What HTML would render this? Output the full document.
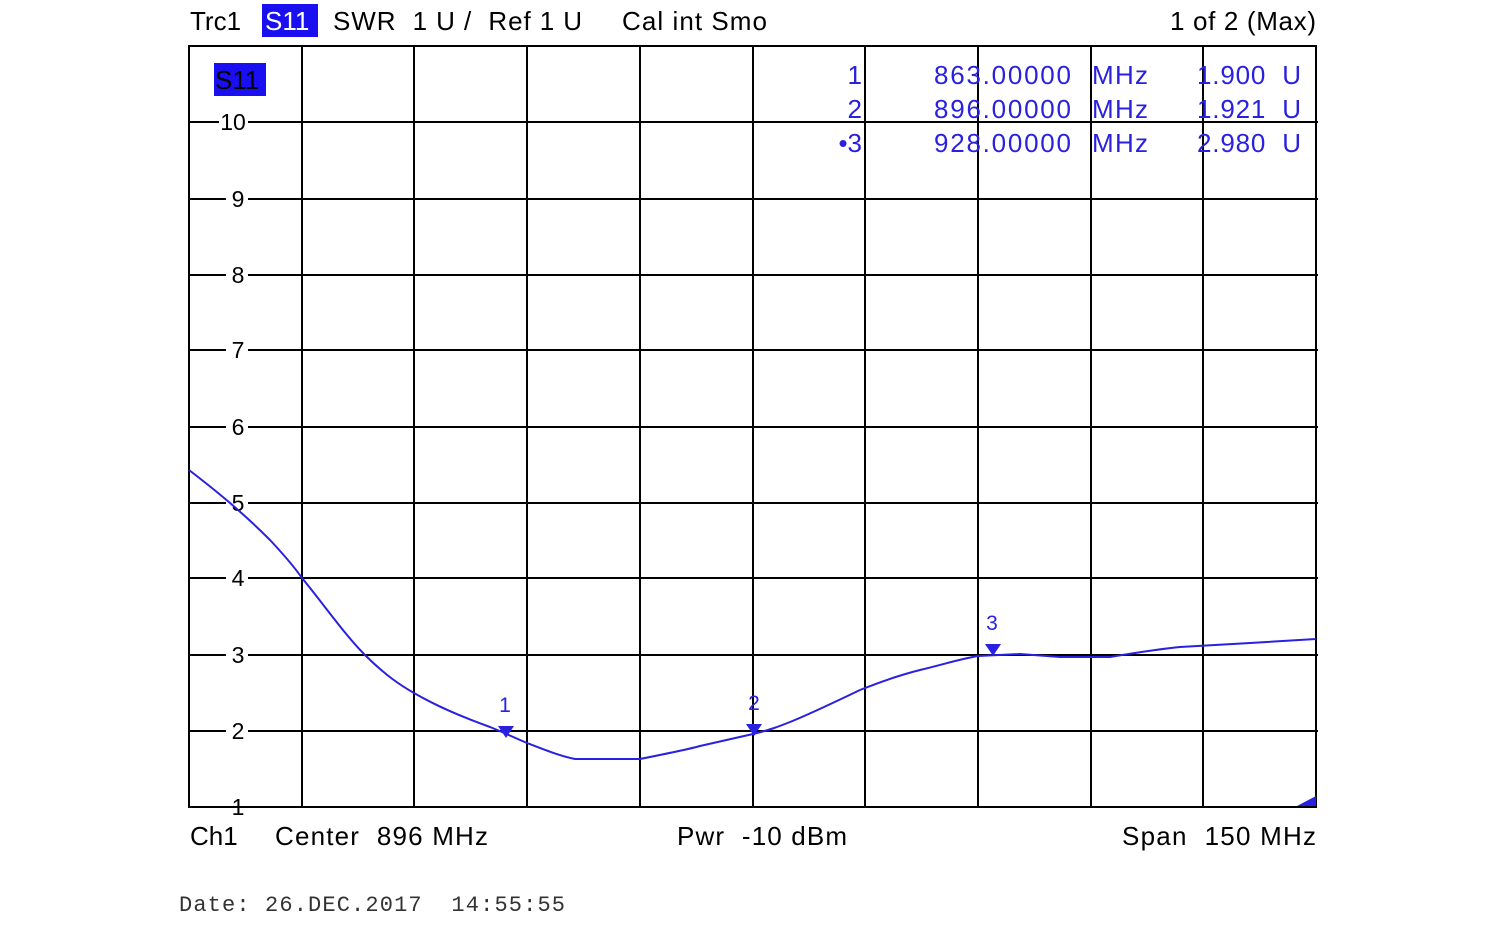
<!DOCTYPE html>
<html><head><style>
body{margin:0;background:#fff;width:1500px;height:944px;overflow:hidden}
svg text{white-space:pre}
.s{font-family:"Liberation Sans",sans-serif}
.m{font-family:"Liberation Mono",monospace}
</style></head><body>
<svg width="1500" height="944" xmlns="http://www.w3.org/2000/svg" xml:space="preserve">
<g stroke="#000" stroke-width="2" fill="none">
<rect x="189" y="46" width="1127" height="761"/>
<path d="M302 46V807M414 46V807M527 46V807M640 46V807M753 46V807M865 46V807M978 46V807M1091 46V807M1203 46V807"/>
<path d="M189 122H219M248 122H1318M189 199H226M248 199H1318M189 275H226M248 275H1318M189 350H226M248 350H1318M189 427H226M248 427H1318M189 503H226M248 503H1318M189 578H226M248 578H1318M189 655H226M248 655H1318M189 731H226M248 731H1318M189 807H226M248 807H1316"/>
</g>
<g class="s" font-size="23" fill="#000" text-anchor="middle">
<text x="233" y="130">10</text><text x="238" y="207">9</text><text x="238" y="283">8</text><text x="238" y="358">7</text><text x="238" y="435">6</text><text x="238" y="511">5</text><text x="238" y="586">4</text><text x="238" y="663">3</text><text x="238" y="739">2</text><text x="238" y="815">1</text>
</g>
<g class="s" font-size="26" fill="#000">
<text x="190" y="30">Trc1</text>
<rect x="262" y="4" width="56" height="33" fill="#1a0ff0"/>
<text x="265" y="30" fill="#fff">S11</text>
<text x="333" y="30" textLength="249">SWR  1 U /  Ref 1 U</text>
<text x="622" y="30" textLength="145">Cal int Smo</text>
<text x="1170" y="30" textLength="146">1 of 2 (Max)</text>
<text x="190" y="845">Ch1</text>
<text x="275" y="845" textLength="213">Center  896 MHz</text>
<text x="677" y="845" textLength="170">Pwr  -10 dBm</text>
<text x="1122" y="845" textLength="194">Span  150 MHz</text>
</g>
<rect x="214" y="63" width="52" height="33" fill="#1a0ff0"/>
<text class="s" x="215" y="89" font-size="26" fill="#000">S11</text>
<g class="s" font-size="26" fill="#2a20e0">
<text x="862" y="84" text-anchor="end">1</text><text x="934" y="84" textLength="137">863.00000</text><text x="1092" y="84" textLength="56">MHz</text><text x="1197" y="84" textLength="104">1.900  U</text>
<text x="862" y="118" text-anchor="end">2</text><text x="934" y="118" textLength="137">896.00000</text><text x="1092" y="118" textLength="56">MHz</text><text x="1197" y="118" textLength="104">1.921  U</text>
<text x="862" y="152" text-anchor="end">•3</text><text x="934" y="152" textLength="137">928.00000</text><text x="1092" y="152" textLength="56">MHz</text><text x="1197" y="152" textLength="104">2.980  U</text>
</g>
<path d="M189 470 C215 490 240 510 270 540 C285 556 295 568 302 578 C325 606 345 635 365 655 C385 675 400 685 414 693 C440 708 465 718 490 727 C505 733 515 738 527 743 C545 750 560 756 575 759 L640 759 C665 754 690 749 700 746 L753 734 C770 730 780 726 790 722 C810 714 835 702 860 690 C880 682 900 675 920 670 C945 664 960 659 978 656 L1020 654 L1060 657 L1110 657 C1140 652 1160 649 1180 647 L1250 643 L1316 639" stroke="#2a20e0" stroke-width="2" fill="none"/>
<g class="s" fill="#2a20e0" font-size="21" text-anchor="middle">
<path d="M498 726H514L506 738Z"/><text x="505" y="712">1</text>
<path d="M746 724H762L754 736Z"/><text x="754" y="710">2</text>
<path d="M985 644H1001L993 656Z"/><text x="992" y="630">3</text>
<path d="M1297 806L1316 796V806Z"/>
</g>
<text class="m" x="179" y="911" font-size="22" fill="#333" textLength="386">Date: 26.DEC.2017  14:55:55</text>
</svg>
</body></html>
